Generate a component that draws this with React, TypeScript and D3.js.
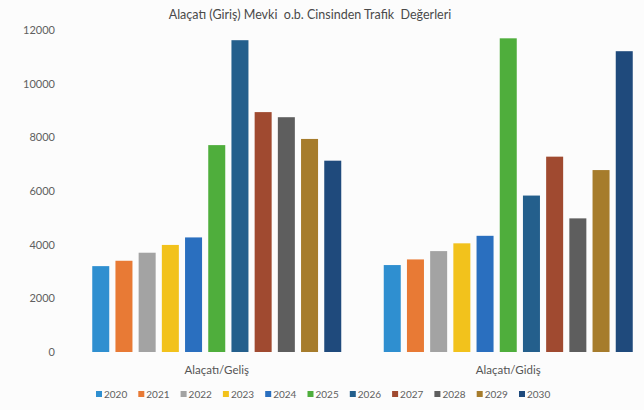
import React from "react";
import * as d3 from "d3";

const categories = ["Alaçatı/Geliş", "Alaçatı/Gidiş"];
const years = ["2020", "2021", "2022", "2023", "2024", "2025", "2026", "2027", "2028", "2029", "2030"];
const gelis = [3200, 3400, 3700, 3990, 4270, 7710, 11620, 8940, 8750, 7940, 7130];
const gidis = [3240, 3450, 3760, 4050, 4330, 11690, 5830, 7280, 4980, 6780, 11210];
const yTicks = [0, 2000, 4000, 6000, 8000, 10000, 12000];
const colors = ["#2f8fd0", "#e87a35", "#a3a3a3", "#f2c21c", "#2a6fbf", "#4fae3c", "#245f8c", "#a04a30", "#5e5e5e", "#a67c2c", "#1f4a7c"];
const title = "Alaçatı (Giriş) Mevki  o.b. Cinsinden Trafik  Değerleri";

const W = 644;
const H = 410;
const FONT = "Lato, 'Open Sans', sans-serif";

export default function App() {
  const series = [gelis, gidis];
  const x0 = d3.scaleBand<string>().domain(categories).range([71, 654]).paddingInner(0).paddingOuter(0);
  const x1 = d3.scaleBand<string>().domain(years).range([0, x0.bandwidth()]).paddingInner(0.267).paddingOuter(0.916);
  const y = d3.scaleLinear().domain([0, 12000]).range([352, 30]);
  const legendX = d3.scaleBand<string>().domain(years).range([96, 96 + 42.3 * years.length]);

  return (
    <div style={{ position: "absolute", left: 0, top: 0, width: W, height: H, background: "#fff" }}>
      <svg width={W} height={H} style={{ display: "block", fontFamily: FONT }}>
        <rect x={0} y={0} width={W} height={H} fill="#fcfcfc" />
        <text x={310} y={19} textAnchor="middle" fontSize={12.5} fill="#4a4a4a" style={{ whiteSpace: "pre" }}>{title}</text>
        {yTicks.map((t) => (
          <text key={t} x={55} y={y(t) + 4} textAnchor="end" fontSize={11} fill="#606060">{t}</text>
        ))}
        {categories.map((c, ci) => (
          <g key={c} transform={`translate(${x0(c)},0)`}>
            {years.map((yr, i) => (
              <rect
                key={yr}
                x={x1(yr)}
                y={y(series[ci][i])}
                width={x1.bandwidth()}
                height={y(0) - y(series[ci][i])}
                fill={colors[i]}
              />
            ))}
            <text x={x0.bandwidth() / 2} y={374} textAnchor="middle" fontSize={11.5} fill="#555">{c}</text>
          </g>
        ))}
        {years.map((yr, i) => (
          <g key={yr} transform={`translate(${legendX(yr)},394)`}>
            <rect x={0} y={-3} width={6} height={6} fill={colors[i]} />
            <text x={8} y={3.5} fontSize={10} fill="#606060">{yr}</text>
          </g>
        ))}
      </svg>
    </div>
  );
}
